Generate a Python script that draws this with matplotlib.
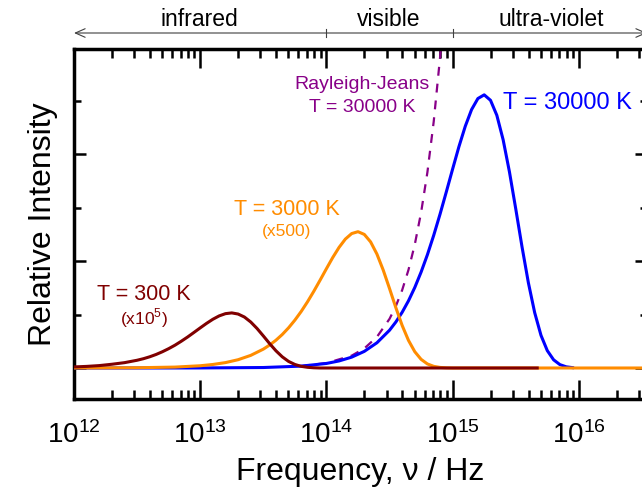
"""
plot.py

Blackbody spectra (Planck curves) at 300 K, 3000 K and 30000 K on a
log frequency axis, plus the Rayleigh-Jeans limit for 30000 K.
Writes out.png.
"""

import matplotlib

matplotlib.use("Agg")
import matplotlib.pyplot as plt
import matplotlib.transforms as mtransforms
import numpy as np
from matplotlib.ticker import LogLocator, MultipleLocator, NullFormatter

plt.rcParams["font.family"] = ["Liberation Sans", "DejaVu Sans"]

# data (x as log10 of frequency in Hz)
blue_logf = [12.0, 12.5, 13.0, 13.5, 13.8, 14.0, 14.1, 14.2, 14.3, 14.4,
             14.5, 14.55, 14.6, 14.65, 14.7, 14.75, 14.8, 14.85, 14.9, 14.95,
             15.0, 15.05, 15.1, 15.15, 15.2, 15.25, 15.3, 15.35, 15.4, 15.45,
             15.5, 15.55, 15.6, 15.65, 15.7, 15.75, 15.8, 15.85, 15.9, 15.95]
blue_int = [0.0, 0.0, 0.001, 0.009, 0.035, 0.085, 0.132, 0.203, 0.311, 0.472,
            0.707, 0.861, 1.043, 1.257, 1.507, 1.795, 2.120, 2.483, 2.878, 3.297,
            3.725, 4.144, 4.524, 4.836, 5.043, 5.112, 5.010, 4.730, 4.272, 3.671,
            2.978, 2.263, 1.596, 1.036, 0.611, 0.325, 0.153, 0.063, 0.022, 0.007]

orange_logf = [12.0, 12.5, 12.8, 13.0, 13.1, 13.2, 13.3, 13.4, 13.5, 13.55,
               13.6, 13.65, 13.7, 13.75, 13.8, 13.85, 13.9, 13.95, 14.0, 14.05,
               14.1, 14.15, 14.2, 14.25, 14.3, 14.35, 14.4, 14.45, 14.5, 14.55,
               14.6, 14.65, 14.7, 14.75, 14.8, 14.85, 14.9, 14.95, 15.0, 16.0, 16.6]
orange_int = [0.0, 0.005, 0.017, 0.042, 0.066, 0.101, 0.155, 0.236, 0.353, 0.430,
              0.520, 0.627, 0.752, 0.896, 1.058, 1.239, 1.436, 1.645, 1.859, 2.068,
              2.257, 2.413, 2.516, 2.551, 2.500, 2.360, 2.132, 1.832, 1.486, 1.129,
              0.796, 0.517, 0.305, 0.162, 0.076, 0.031, 0.011, 0.003, 0.0, 0.0, 0.0]

maroon_logf = [12.0, 12.1, 12.2, 12.3, 12.4, 12.5, 12.55, 12.6, 12.65, 12.7,
               12.75, 12.8, 12.85, 12.9, 12.95, 13.0, 13.05, 13.1, 13.15, 13.2,
               13.25, 13.3, 13.35, 13.4, 13.45, 13.5, 13.55, 13.6, 13.65, 13.7,
               13.75, 13.8, 13.85, 13.9, 13.95, 14.5, 15.67]
maroon_int = [0.02, 0.03, 0.045, 0.07, 0.10, 0.145, 0.174, 0.210, 0.253, 0.304,
              0.362, 0.427, 0.501, 0.580, 0.665, 0.751, 0.835, 0.912, 0.975, 1.017,
              1.031, 1.010, 0.954, 0.861, 0.740, 0.600, 0.456, 0.322, 0.209, 0.123,
              0.066, 0.031, 0.013, 0.004, 0.0, 0.0, 0.0]

rj_logf = [13.8, 14.0, 14.2, 14.3, 14.4, 14.5, 14.55, 14.6, 14.65, 14.7,
           14.75, 14.8, 14.85, 14.9, 14.95]
rj_int = [0.037, 0.092, 0.231, 0.366, 0.581, 0.920, 1.158, 1.458, 1.836, 2.311,
          2.910, 3.663, 4.612, 5.805, 7.31]

regions = ["infrared", "visible", "ultra-violet"]
region_logf = [12.99, 14.495, 15.778]
region_edges = [1e14, 1e15]

# colours
BLUE = "#0000ff"
ORANGE = "#ff8c00"
MAROON = "#800000"
PURPLE = "#880088"


def main() -> None:
    fig = plt.figure(figsize=(6.42, 4.88), dpi=100)
    ax = fig.add_axes([0.1153, 0.1824, 0.8925, 0.7172])

    ax.plot(10.0 ** np.array(rj_logf), rj_int, color=PURPLE, lw=1.6,
            dashes=(4, 3.6), zorder=2)
    ax.plot(10.0 ** np.array(blue_logf), blue_int, color=BLUE, lw=2.2, zorder=3)
    ax.plot(10.0 ** np.array(orange_logf), orange_int, color=ORANGE, lw=2.2, zorder=4)
    ax.plot(10.0 ** np.array(maroon_logf), maroon_int, color=MAROON, lw=2.2, zorder=5)

    ax.set_xscale("log")
    ax.set_xlim(1e12, 10 ** 16.54)
    ax.set_ylim(-0.58, 5.97)

    ax.xaxis.set_major_locator(LogLocator(base=10, numticks=10))
    ax.xaxis.set_minor_locator(LogLocator(base=10, subs=np.arange(2, 10), numticks=20))
    ax.xaxis.set_minor_formatter(NullFormatter())
    ax.yaxis.set_major_locator(MultipleLocator(2))
    ax.yaxis.set_minor_locator(MultipleLocator(1))
    ax.set_yticklabels([])

    ax.tick_params(axis="both", which="both", direction="in", top=True, right=True,
                   width=1.8, color="black")
    ax.tick_params(axis="x", which="major", length=13.5, pad=16, labelsize=20)
    ax.tick_params(axis="x", which="minor", length=6.5)
    ax.tick_params(axis="y", which="major", length=8.6)
    ax.tick_params(axis="y", which="minor", length=5)
    for sp in ax.spines.values():
        sp.set_linewidth(2.5)

    ax.set_xlabel("Frequency, \u03bd / Hz", fontsize=23, labelpad=6)
    ax.set_ylabel("Relative Intensity", fontsize=23, labelpad=8)

    # curve labels
    ax.text(10 ** 15.913, 4.96, "T = 30000 K", color=BLUE, fontsize=17,
            ha="center", va="center")
    ax.text(10 ** 14.281, 5.30, "Rayleigh-Jeans", color=PURPLE, fontsize=14,
            ha="center", va="center")
    ax.text(10 ** 14.281, 4.87, "T = 30000 K", color=PURPLE, fontsize=14,
            ha="center", va="center")
    ax.text(10 ** 13.687, 2.96, "T = 3000 K", color=ORANGE, fontsize=15.5,
            ha="center", va="center")
    ax.text(10 ** 13.687, 2.55, "(x500)", color=ORANGE, fontsize=12.5,
            ha="center", va="center")
    ax.text(10 ** 12.554, 1.37, "T = 300 K", color=MAROON, fontsize=15.5,
            ha="center", va="center")
    ax.text(10 ** 12.554, 0.94, r"(x10$^{\mathdefault{5}}$)", color=MAROON,
            fontsize=12.5, ha="center", va="center")

    # spectral regions above the axes
    trans = mtransforms.blended_transform_factory(ax.transData, ax.transAxes)
    ax.annotate("", xy=(0.0, 1.0457), xytext=(1.0, 1.0457),
                xycoords="axes fraction", textcoords="axes fraction",
                arrowprops=dict(arrowstyle="<->,head_length=0.5,head_width=0.22",
                                mutation_scale=14, lw=0.8, color="#404040",
                                shrinkA=0, shrinkB=0),
                annotation_clip=False)
    for edge in region_edges:
        ax.plot([edge, edge], [1.034, 1.057], transform=trans, color="#404040",
                lw=0.8, clip_on=False)
    for name, lf in zip(regions, region_logf):
        ax.text(10 ** lf, 1.083, name, transform=trans, fontsize=16.5,
                ha="center", va="center")

    fig.savefig("out.png", dpi=100)
    plt.close(fig)


if __name__ == "__main__":
    main()
